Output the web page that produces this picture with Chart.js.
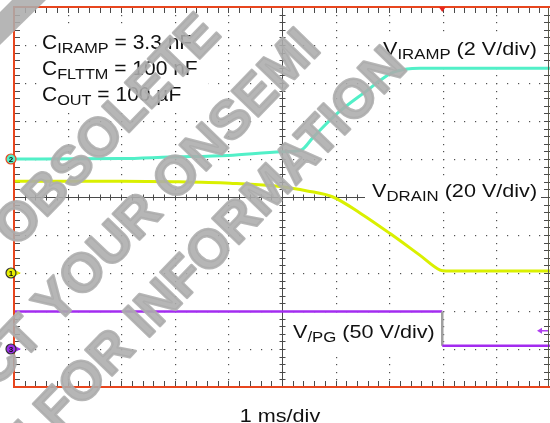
<!DOCTYPE html>
<html>
<head>
<meta charset="utf-8">
<script src="https://cdn.jsdelivr.net/npm/chart.js@4.4.1/dist/chart.umd.min.js"></script>
<style>
  html, body { margin: 0; padding: 0; background: #fff; }
  #wrap { width: 550px; height: 423px; position: relative; }
</style>
</head>
<body>
<div id="wrap"><canvas id="scope" width="550" height="423"></canvas></div>
<script>
// scope traces, time in ms (1 ms/div), values in volts
const irampTimeMs = [0, 2.0, 2.9, 4.0, 5.0, 5.35, 5.58, 6.03, 6.64, 6.83, 7.07, 7.33, 7.57, 10];
const irampVolts = [0, 0.02, 0.10, 0.19, 0.38, 0.46, 1.14, 2.40, 3.72, 4.14, 4.56, 4.74, 4.77, 4.77];

const drainTimeMs = [0, 2.0, 3.0, 4.03, 5.0, 5.47, 5.95, 6.46, 7.01, 7.57, 7.95, 8.06, 10];
const drainVolts = [48.3, 48.3, 48.0, 47.2, 45.4, 43.2, 40.0, 31.5, 20.9, 9.4, 1.5, 1.0, 1.0];

const pgTimeMs = [0, 7.99, 7.99, 10];
const pgVolts = [49.5, 49.5, 4.3, 4.3];

const triggerTimeMs = 7.99;
const pgTriggerLevel = 24;

const capLabels = [
  ['C', 'IRAMP', ' = 3.3 nF'],
  ['C', 'FLTTM', ' = 100 nF'],
  ['C', 'OUT', ' = 100 µF']
];
const timeBaseLabel = '1 ms/div';

const FONT = '"Liberation Sans", Arial, Helvetica, sans-serif';

function toPoints(xs, ys) {
  return xs.map((x, i) => ({ x: x, y: ys[i] }));
}

function drawSubText(ctx, x, y, parts, size, subSize, sx) {
  ctx.save();
  ctx.translate(x, y);
  ctx.scale(sx, 1);
  ctx.fillStyle = '#111';
  ctx.textBaseline = 'alphabetic';
  let cx = 0;
  parts.forEach((p, i) => {
    let isSub = i === 1;
    ctx.font = (isSub ? subSize : size) + 'px ' + FONT;
    ctx.fillText(p, cx, isSub ? 4 : 0);
    cx += ctx.measureText(p).width;
  });
  ctx.restore();
}

const scopePlugin = {
  id: 'scope',
  beforeDatasetsDraw(chart) {
    const ctx = chart.ctx;
    const a = chart.chartArea;
    const dx = (a.right - a.left) / 10;
    const dy = (a.bottom - a.top) / 10;
    ctx.save();
    ctx.fillStyle = '#fff';
    ctx.fillRect(0, 0, chart.width, chart.height);

    // dotted graticule
    ctx.fillStyle = '#505050';
    for (let i = 1; i < 10; i++) {
      if (i === 5) continue;
      let px = Math.round(a.left + i * dx);
      for (let k = 1; k < 50; k++) {
        let py = Math.round(a.top + k * dy / 5);
        ctx.fillRect(px, py, 1.2, 1.2);
      }
      let py2 = Math.round(a.top + i * dy);
      for (let k = 1; k < 50; k++) {
        let qx = Math.round(a.left + k * dx / 5);
        ctx.fillRect(qx, py2, 1.2, 1.2);
      }
    }

    // center axes with minor ticks
    let cx = Math.round(a.left + 5 * dx) + 0.5;
    let cy = Math.round(a.top + 5 * dy) + 0.5;
    ctx.strokeStyle = '#4a4a4a';
    ctx.lineWidth = 1;
    ctx.beginPath();
    ctx.moveTo(a.left, cy); ctx.lineTo(a.right, cy);
    ctx.moveTo(cx, a.top); ctx.lineTo(cx, a.bottom);
    for (let k = 1; k < 50; k++) {
      let tx = Math.round(a.left + k * dx / 5) + 0.5;
      ctx.moveTo(tx, cy - 3); ctx.lineTo(tx, cy + 3);
      let ty = Math.round(a.top + k * dy / 5) + 0.5;
      ctx.moveTo(cx - 3, ty); ctx.lineTo(cx + 3, ty);
    }
    // edge ticks
    for (let k = 1; k < 50; k++) {
      let tx = Math.round(a.left + k * dx / 5) + 0.5;
      ctx.moveTo(tx, a.top); ctx.lineTo(tx, a.top + 6);
      ctx.moveTo(tx, a.bottom); ctx.lineTo(tx, a.bottom - 6);
      let ty = Math.round(a.top + k * dy / 5) + 0.5;
      ctx.moveTo(a.left, ty); ctx.lineTo(a.left + 6, ty);
      ctx.moveTo(a.right, ty); ctx.lineTo(a.right - 6, ty);
    }
    ctx.stroke();
    ctx.restore();
  },
  afterDatasetsDraw(chart) {
    const ctx = chart.ctx;
    const a = chart.chartArea;
    const x = chart.scales.x;
    ctx.save();

    // frame
    ctx.strokeStyle = '#5a5a4a';
    ctx.lineWidth = 1;
    ctx.beginPath();
    ctx.moveTo(a.right - 1.5, a.top); ctx.lineTo(a.right - 1.5, a.bottom);
    ctx.stroke();
    ctx.strokeStyle = '#e8461e';
    ctx.lineWidth = 2;
    ctx.beginPath();
    ctx.moveTo(a.left, a.top); ctx.lineTo(a.right, a.top);
    ctx.moveTo(a.left, a.top - 1); ctx.lineTo(a.left, a.bottom + 1);
    ctx.moveTo(a.left - 1, a.bottom); ctx.lineTo(a.right, a.bottom);
    ctx.stroke();

    // trigger position marker
    let tpx = x.getPixelForValue(triggerTimeMs);
    ctx.fillStyle = '#e8261e';
    ctx.beginPath();
    ctx.moveTo(tpx - 3.5, a.top); ctx.lineTo(tpx + 3.5, a.top); ctx.lineTo(tpx, a.top + 5);
    ctx.closePath(); ctx.fill();

    // ch3 trigger level arrow
    let ly = chart.scales.yPg.getPixelForValue(pgTriggerLevel);
    ctx.strokeStyle = '#b040f0';
    ctx.fillStyle = '#b040f0';
    ctx.lineWidth = 1.5;
    ctx.beginPath();
    ctx.moveTo(a.right - 2, ly); ctx.lineTo(a.right - 10, ly);
    ctx.stroke();
    ctx.beginPath();
    ctx.moveTo(a.right - 13, ly); ctx.lineTo(a.right - 8, ly - 3); ctx.lineTo(a.right - 8, ly + 3);
    ctx.closePath(); ctx.fill();

    // channel ground markers
    const markers = [
      { n: '2', axis: 'yIramp', fill: '#52f0c8', ring: '#e8461e', arrow: false },
      { n: '1', axis: 'yDrain', fill: '#e8f000', ring: '#333', arrow: true },
      { n: '3', axis: 'yPg', fill: '#9b30e8', ring: '#333', arrow: true }
    ];
    markers.forEach(m => {
      let my = chart.scales[m.axis].getPixelForValue(0);
      let mx = a.left - 3;
      if (m.arrow) {
        ctx.fillStyle = m.fill;
        ctx.beginPath();
        ctx.moveTo(mx + 10, my); ctx.lineTo(mx + 4, my - 3); ctx.lineTo(mx + 4, my + 3);
        ctx.closePath(); ctx.fill();
      }
      ctx.beginPath();
      ctx.arc(mx, my, 5, 0, Math.PI * 2);
      ctx.fillStyle = m.fill;
      ctx.fill();
      ctx.lineWidth = 1.2;
      ctx.strokeStyle = m.ring;
      ctx.stroke();
      ctx.fillStyle = '#111';
      ctx.font = 'bold 8px ' + FONT;
      ctx.textAlign = 'center';
      ctx.textBaseline = 'middle';
      ctx.fillText(m.n, mx, my + 0.5);
    });
    ctx.textAlign = 'left';

    // label boxes
    ctx.fillStyle = '#fff';
    ctx.fillRect(40, 30, 168, 78);
    ctx.fillRect(378, 34, 166, 30);
    ctx.fillRect(365, 180, 176, 28);
    ctx.fillRect(286, 315, 154, 36);

    capLabels.forEach((p, i) => {
      drawSubText(ctx, 42, 49 + i * 26, p, 20, 15.5, 1.05);
    });
    drawSubText(ctx, 383, 55, ['V', 'IRAMP', ' (2 V/div)'], 18, 14, 1.2);
    drawSubText(ctx, 372, 197, ['V', 'DRAIN', ' (20 V/div)'], 18, 14, 1.2);
    drawSubText(ctx, 293, 338, ['V', '/PG', ' (50 V/div)'], 18, 14, 1.2);

    // time base
    ctx.save();
    ctx.font = '18px ' + FONT;
    let tw = ctx.measureText(timeBaseLabel).width * 1.2;
    ctx.translate(x.getPixelForValue(5) - 2 - tw / 2, 417);
    ctx.scale(1.2, 1);
    ctx.fillStyle = '#111';
    ctx.fillText(timeBaseLabel, 0, 0);
    ctx.restore();

    // watermark
    const wm = [
      { text: 'PRODUCT OBSOLETE', word: 'OBSOLETE', cx: 94, cy: 118 },
      { text: 'CONTACT YOUR ONSEMI', word: 'YOUR ONSEMI', cx: 164, cy: 164 },
      { text: 'REPRESENTATIVE FOR INFORMATION', word: 'FOR INFORMATION', cx: 208, cy: 226 }
    ];
    ctx.font = 'bold 54px ' + FONT;
    ctx.fillStyle = 'rgba(172,172,172,0.88)';
    ctx.strokeStyle = 'rgba(172,172,172,0.88)';
    ctx.lineWidth = 2.5;
    ctx.lineJoin = 'round';
    wm.forEach(w => {
      let pre = w.text.slice(0, w.text.indexOf(w.word));
      let off = ctx.measureText(pre).width + ctx.measureText(w.word).width / 2;
      ctx.save();
      ctx.translate(w.cx, w.cy);
      ctx.rotate(-46 * Math.PI / 180);
      ctx.fillText(w.text, -off, 20);
      ctx.strokeText(w.text, -off, 20);
      ctx.restore();
    });
    // fragment of a letter from the line above, cut by the corner
    ctx.beginPath();
    ctx.moveTo(12, 0); ctx.lineTo(46, 0); ctx.lineTo(0, 45); ctx.lineTo(0, 12);
    ctx.closePath();
    ctx.fill();
    ctx.restore();
  }
};

new Chart(document.getElementById('scope'), {
  type: 'line',
  data: {
    datasets: [
      {
        label: 'V_IRAMP',
        data: toPoints(irampTimeMs, irampVolts),
        yAxisID: 'yIramp',
        borderColor: '#52f0c8',
        borderWidth: 3,
        pointRadius: 0,
        cubicInterpolationMode: 'monotone'
      },
      {
        label: 'V_DRAIN',
        data: toPoints(drainTimeMs, drainVolts),
        yAxisID: 'yDrain',
        borderColor: '#daf000',
        borderWidth: 3,
        pointRadius: 0,
        cubicInterpolationMode: 'monotone'
      },
      {
        label: 'V_/PG',
        data: toPoints(pgTimeMs, pgVolts),
        yAxisID: 'yPg',
        borderColor: '#a32cf0',
        borderWidth: 2.5,
        pointRadius: 0,
        tension: 0,
        segment: {
          borderColor: c => c.p0.parsed.x === c.p1.parsed.x ? '#a0a0a0' : undefined
        }
      }
    ]
  },
  options: {
    responsive: false,
    animation: false,
    layout: { padding: { left: 14, right: 0, top: 7, bottom: 36 } },
    plugins: { legend: { display: false }, tooltip: { enabled: false } },
    scales: {
      x: { type: 'linear', min: 0, max: 10, display: false },
      yIramp: { type: 'linear', min: -12, max: 8, display: false },
      yDrain: { type: 'linear', min: -60, max: 140, display: false },
      yPg: { type: 'linear', min: -50, max: 450, display: false }
    }
  },
  plugins: [scopePlugin]
});
</script>
</body>
</html>
